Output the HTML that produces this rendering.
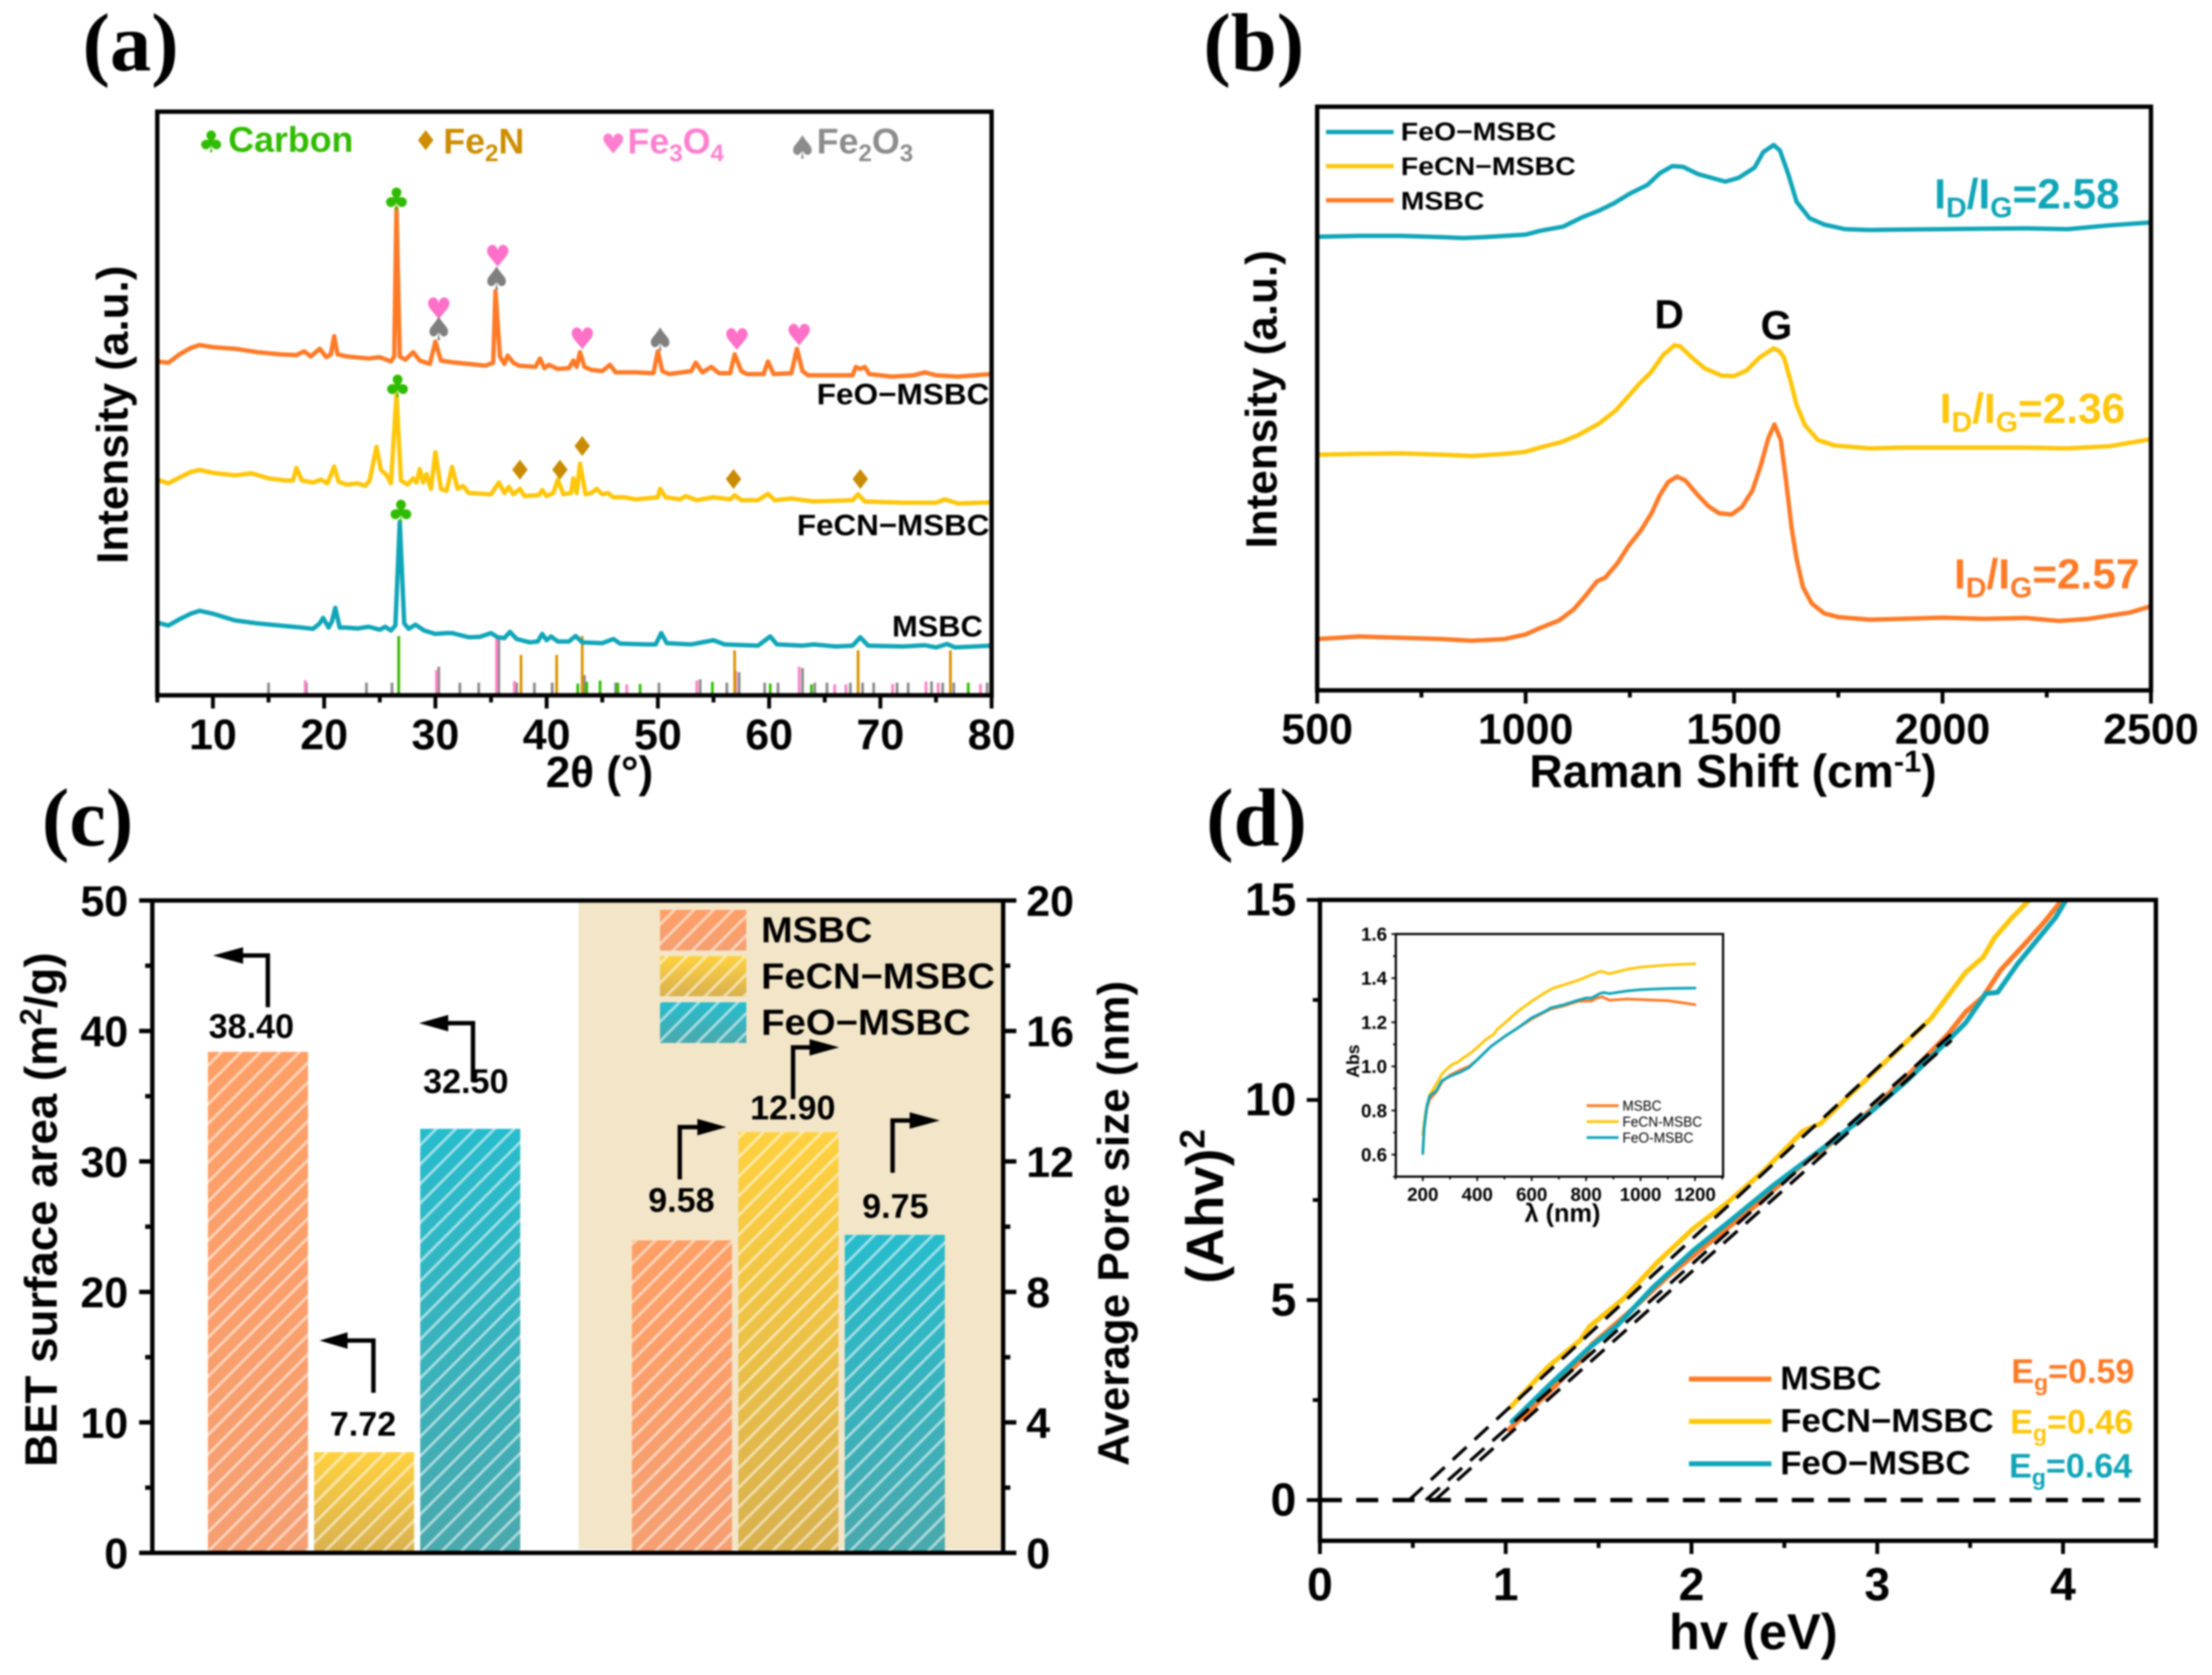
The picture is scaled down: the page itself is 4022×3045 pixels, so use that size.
<!DOCTYPE html>
<html lang="en">
<head>
<meta charset="utf-8">
<title>XRD, Raman, BET and band gap of MSBC samples</title>
<style>
html,body{margin:0;padding:0;background:#fff;}
body{width:4022px;height:3045px;overflow:hidden;}
svg{display:block;filter:blur(1.5px);}
text{font-family:"Liberation Sans","DejaVu Sans",sans-serif;font-weight:bold;fill:#000;}
.panel{font-family:"Liberation Serif",serif;font-size:150px;}
.axt{font-size:80px;}
.sym{font-family:"DejaVu Sans",sans-serif;font-weight:normal;}
</style>
</head>
<body>
<svg id="fig" xmlns="http://www.w3.org/2000/svg" width="4022" height="3045" viewBox="0 0 4022 3045">
<defs>
<pattern id="hatch" width="25" height="25" patternUnits="userSpaceOnUse" patternTransform="rotate(45)">
<line x1="12" y1="0" x2="12" y2="25" stroke="#fff" stroke-opacity="0.55" stroke-width="5"/>
</pattern>
<linearGradient id="gradO" x1="0" y1="0" x2="0" y2="1"><stop offset="0" stop-color="#ff9f66"/><stop offset="1" stop-color="#f59f72"/></linearGradient>
<linearGradient id="gradY" x1="0" y1="0" x2="0" y2="1"><stop offset="0" stop-color="#ffd13f"/><stop offset="1" stop-color="#d8b14f"/></linearGradient>
<linearGradient id="gradT" x1="0" y1="0" x2="0" y2="1"><stop offset="0" stop-color="#27bccd"/><stop offset="1" stop-color="#4aa9ad"/></linearGradient>
</defs>
<rect x="0" y="0" width="4022" height="3045" fill="#fff"/>

<text class="panel" x="150" y="128">(a)</text>
<text class="panel" x="2188" y="128">(b)</text>
<text class="panel" x="76" y="1537">(c)</text>
<text class="panel" x="2193" y="1537">(d)</text>

<g id="panelA"></g>
<g id="panelB"></g>
<g id="panelC"></g>
<g id="panelD"></g>
<g id="panelInset"></g>

<!-- panel a text -->
<text class="axt" transform="rotate(-90 232 754)" x="232" y="754" text-anchor="middle">Intensity (a.u.)</text>
<text class="axt" x="1090" y="1431" text-anchor="middle">2θ (°)</text>
<g>
<text class="sym" x="384" y="258" font-size="54" text-anchor="middle" dominant-baseline="central" style="fill:#2fbc00">♣</text>
<text x="415" y="276" font-size="65" style="fill:#2fbc00">Carbon</text>
<text class="sym" x="774" y="256" font-size="50" text-anchor="middle" dominant-baseline="central" style="fill:#cc8d00">♦</text>
<text x="806" y="279" font-size="65" style="fill:#cc8d00">Fe<tspan font-size="44" dy="14">2</tspan><tspan dy="-14">N</tspan></text>
<text class="sym" x="1115" y="262" font-size="50" text-anchor="middle" dominant-baseline="central" style="fill:#ff7fcf">♥</text>
<text x="1141" y="279" font-size="65" style="fill:#ff7fcf">Fe<tspan font-size="44" dy="14">3</tspan><tspan dy="-14">O</tspan><tspan font-size="44" dy="14">4</tspan></text>
<text class="sym" x="1459" y="268" font-size="58" text-anchor="middle" dominant-baseline="central" style="fill:#8c8c8c">♠</text>
<text x="1485" y="279" font-size="65" style="fill:#8c8c8c">Fe<tspan font-size="44" dy="14">2</tspan><tspan dy="-14">O</tspan><tspan font-size="44" dy="14">3</tspan></text>
</g>
<text x="1799" y="735" font-size="54" text-anchor="end" textLength="314" lengthAdjust="spacingAndGlyphs">FeO−MSBC</text>
<text x="1799" y="973" font-size="54" text-anchor="end" textLength="350" lengthAdjust="spacingAndGlyphs">FeCN−MSBC</text>
<text x="1787" y="1157" font-size="54" text-anchor="end" textLength="165" lengthAdjust="spacingAndGlyphs">MSBC</text>

<!-- panel b text -->
<text class="axt" transform="rotate(-90 2321 726)" x="2321" y="726" text-anchor="middle">Intensity (a.u.)</text>
<text x="3151" y="1431" font-size="84" text-anchor="middle">Raman Shift (cm<tspan font-size="56" dy="-28">-1</tspan><tspan dy="28">)</tspan></text>
<g>
<line x1="2411" y1="240" x2="2534" y2="240" stroke="#0fa5b8" stroke-width="8"/>
<text x="2547" y="255" font-size="46" textLength="283" lengthAdjust="spacingAndGlyphs">FeO−MSBC</text>
<line x1="2411" y1="302" x2="2534" y2="302" stroke="#ffc60a" stroke-width="8"/>
<text x="2547" y="318" font-size="46" textLength="318" lengthAdjust="spacingAndGlyphs">FeCN−MSBC</text>
<line x1="2411" y1="364" x2="2534" y2="364" stroke="#ff7a26" stroke-width="8"/>
<text x="2547" y="381" font-size="46" textLength="152" lengthAdjust="spacingAndGlyphs">MSBC</text>
</g>
<text x="3517" y="379" font-size="77" style="fill:#0fa5b8">I<tspan font-size="52" dy="16">D</tspan><tspan dy="-16">/I</tspan><tspan font-size="52" dy="16">G</tspan><tspan dy="-16">=2.58</tspan></text>
<text x="3527" y="769" font-size="77" style="fill:#ffc60a">I<tspan font-size="52" dy="16">D</tspan><tspan dy="-16">/I</tspan><tspan font-size="52" dy="16">G</tspan><tspan dy="-16">=2.36</tspan></text>
<text x="3553" y="1070" font-size="77" style="fill:#ff7a26">I<tspan font-size="52" dy="16">D</tspan><tspan dy="-16">/I</tspan><tspan font-size="52" dy="16">G</tspan><tspan dy="-16">=2.57</tspan></text>
<text x="3035" y="597" font-size="74" text-anchor="middle">D</text>
<text x="3230" y="617" font-size="74" text-anchor="middle">G</text>

<!-- panel c text -->
<text transform="rotate(-90 103 2199)" x="103" y="2199" font-size="83" text-anchor="middle">BET surface area (m<tspan font-size="56" dy="-28">2</tspan><tspan dy="28">/g)</tspan></text>
<text class="axt" transform="rotate(-90 2052 2224)" x="2052" y="2224" text-anchor="middle">Average Pore size (nm)</text>

<!-- panel d text -->
<text transform="rotate(-90 2224 2193)" x="2224" y="2193" text-anchor="middle" font-size="96">(Ahv)<tspan font-size="64" dy="-34">2</tspan></text>
<text x="3188" y="2998" font-size="92" text-anchor="middle">hv (eV)</text>
<g>
<line x1="3071" y1="2507" x2="3221" y2="2507" stroke="#ff7a26" stroke-width="9"/>
<text x="3237" y="2526" font-size="60" textLength="184" lengthAdjust="spacingAndGlyphs">MSBC</text>
<line x1="3071" y1="2584" x2="3221" y2="2584" stroke="#ffc60a" stroke-width="9"/>
<text x="3237" y="2603" font-size="60" textLength="388" lengthAdjust="spacingAndGlyphs">FeCN−MSBC</text>
<line x1="3071" y1="2661" x2="3221" y2="2661" stroke="#0fa5b8" stroke-width="9"/>
<text x="3237" y="2680" font-size="60" textLength="346" lengthAdjust="spacingAndGlyphs">FeO−MSBC</text>
</g>
<text x="3657" y="2514" font-size="62" style="fill:#ff7a26">E<tspan font-size="42" dy="14">g</tspan><tspan dy="-14">=0.59</tspan></text>
<text x="3655" y="2606" font-size="62" style="fill:#ffc60a">E<tspan font-size="42" dy="14">g</tspan><tspan dy="-14">=0.46</tspan></text>
<text x="3653" y="2686" font-size="62" style="fill:#0fa5b8">E<tspan font-size="42" dy="14">g</tspan><tspan dy="-14">=0.64</tspan></text>

<!-- inset text -->
<text x="2445" y="1916" font-size="32" transform="rotate(-90 2458 1916)" text-anchor="middle" dy="13">Abs</text>
<text x="2841" y="2221" font-size="46" text-anchor="middle">λ (nm)</text>
<g>
<line x1="2885" y1="2010" x2="2943" y2="2010" stroke="#ff7a26" stroke-width="5"/>
<text x="2950" y="2019" font-size="26" textLength="71" lengthAdjust="spacingAndGlyphs" style="font-weight:normal">MSBC</text>
<line x1="2885" y1="2039" x2="2943" y2="2039" stroke="#ffc60a" stroke-width="5"/>
<text x="2950" y="2048" font-size="26" textLength="145" lengthAdjust="spacingAndGlyphs" style="font-weight:normal">FeCN-MSBC</text>
<line x1="2885" y1="2068" x2="2943" y2="2068" stroke="#0fa5b8" stroke-width="5"/>
<text x="2950" y="2077" font-size="26" textLength="129" lengthAdjust="spacingAndGlyphs" style="font-weight:normal">FeO-MSBC</text>
</g>
</svg>

<script>
// ---------- Panel (a) XRD data ----------
const xrdTicks = [10,20,30,40,50,60,70,80];
const xrdMinorTicks = [5,15,25,35,45,55,65,75];
const xrdFeoX = [5,6,7,8,8.8,10,12,14,16,17.5,18.2,18.8,19.6,20.2,20.6,20.9,21.2,22,24,25,26,26.3,26.5,26.8,27.3,28,28.6,29.5,30,30.5,31.5,33,34.5,35.2,35.4,35.8,36.2,36.5,37,37.5,39,39.4,39.8,40.2,41,42,42.4,42.7,43,43.4,44,45,45.7,46.2,48,49.6,50,50.4,51,53,53.4,54,54.8,55.5,56.5,56.9,57.5,58,59.5,59.9,60.4,62,62.5,63,63.5,65,67.5,67.8,68.2,68.6,69,71,73,74,75,77,80];
const xrdFeoI = [794,791,811,826,833,828,824,816,811,809,818,806,824,804,811,854,811,806,801,804,794,806,1158,806,798,816,796,788,841,796,792,788,784,791,961,806,788,808,791,784,781,801,778,786,776,778,796,781,816,781,774,771,786,768,768,766,818,771,764,771,791,768,781,766,766,811,771,764,764,794,764,766,824,771,761,761,761,781,776,781,764,758,761,768,761,758,764];
const xrdFecnX = [5,6,7,8,8.8,10,12,13.5,15,16.5,17.2,17.5,18,19,19.7,20.3,20.9,21.3,22,23,23.7,24.1,24.7,25.1,25.6,26,26.5,26.9,27.5,28,28.3,28.6,28.9,29.2,29.6,30,30.5,31,31.5,32,32.5,33,35,35.7,36.2,36.6,37,37.6,38,39.3,39.6,40,40.6,41,41.5,42.2,42.4,42.7,43,43.5,44,44.5,45,45.5,46,47,48,50,50.2,50.7,52,52.5,53.5,55,56.5,56.9,57.5,59,59.9,60.5,62,64,67.5,68,68.6,72,75,75.8,77,80];
const xrdFecnI = [513,504,518,531,536,529,523,528,516,511,511,541,511,506,513,504,544,508,501,504,498,511,591,536,524,504,716,511,501,516,506,538,506,526,491,578,491,486,543,491,498,481,478,506,481,496,478,491,474,476,488,474,481,513,478,481,516,481,551,478,481,491,478,481,471,471,466,471,491,471,466,474,464,471,466,476,464,464,479,464,468,461,464,478,461,458,458,466,456,459];
const xrdMsbcX = [5,6,7,8,8.8,10,12,14,16,18,19,19.6,19.9,20.4,20.7,21,21.4,22,23,24,25,25.5,26,26.4,26.8,27.2,27.6,28.2,29,30,31,31.5,33,34,35,35.6,36.2,36.7,37.3,38.5,39.2,39.6,40,40.4,41,42,42.6,43.2,45,46,46.6,49,49.8,50.3,50.8,53,55,56,59,60.1,60.7,63,64,66,67.5,68.2,68.9,72,74,75,76,76.7,80];
const xrdMsbcI = [173,166,181,194,201,194,178,171,166,161,158,171,184,161,176,208,161,161,159,163,156,163,154,166,413,171,158,168,154,146,148,148,138,139,148,138,136,151,134,126,128,146,131,140,128,128,141,126,124,134,123,121,121,148,124,121,131,121,118,140,121,118,121,116,118,138,118,116,119,114,122,114,118];
const refGrayX = [15,18.4,23.8,26.1,30.3,32.2,33.9,35.7,37.3,38.9,40.5,43.4,44.8,46.2,50.1,53.8,56.2,57.3,59.6,60.8,63,64.1,65.2,67.3,68.4,69.4,71.5,72.5,74.6,75.6,76.6,79.6];
const refGrayI = [30,30,30,30,68,30,30,141,30,30,30,48,30,30,30,38,30,55,30,30,65,30,30,30,30,30,30,30,33,30,30,30];
const refPinkX = [18.3,30.1,35.5,37.1,43.2,47.2,53.5,57,62.7,65.9,66.9,71.1,74.1,75.2,79];
const refPinkI = [36,60,140,34,48,26,35,58,68,26,26,27,33,30,27];
const refGoldX = [37.7,40.9,43.2,56.9,68,76.3];
const refGoldI = [96,96,141,107,107,107];
const refGreenX = [26.7,42.8,43.6,44.8,46.4,48.4,54.9,60.1,63.8,77.9];
const refGreenI = [141,28,32,35,30,27,32,28,26,30];
const clubX = [26.5,26.6,26.9];
const clubI = [1179,734,436];
const heartX = [35.6,30.3,43.2,57.1,62.7];
const heartI = [1044,919,848,846,856];
const spadeX = [35.5,30.3,50.2];
const spadeI = [991,871,846];
const diamondX = [43.2,37.6,41.2,56.8,68.2];
const diamondI = [591,535,535,513,513];

// ---------- Panel (b) Raman data ----------
const ramanTicks = [500,1000,1500,2000,2500];
const ramanMinorTicks = [750,1250,1750,2250];
const ramanFeoX = [500,600,700,800,850,900,1000,1034,1090,1135,1176,1211,1251,1292,1322,1352,1378,1413,1453,1479,1511,1549,1570,1595,1610,1630,1650,1681,1716,1766,1826,1900,2000,2100,2200,2300,2400,2500];
const ramanFeoI = [1078,1080,1080,1077,1075,1077,1083,1092,1102,1124,1140,1157,1181,1201,1229,1246,1244,1227,1216,1209,1218,1242,1279,1296,1283,1227,1161,1122,1107,1096,1094,1095,1096,1097,1098,1096,1105,1112];
const ramanFecnX = [500,600,700,800,870,950,1000,1034,1085,1125,1176,1216,1251,1272,1300,1330,1357,1370,1400,1430,1470,1500,1530,1560,1595,1610,1620,1638,1650,1670,1701,1741,1826,1900,2000,2100,2200,2300,2400,2500];
const ramanFecnI = [560,562,563,560,557,562,567,577,590,606,634,665,704,728,755,797,820,818,790,765,748,747,760,790,813,805,790,726,678,630,595,582,575,577,577,577,577,575,580,597];
const ramanMsbcX = [500,600,700,800,870,950,1000,1034,1080,1115,1143,1171,1191,1221,1246,1277,1302,1322,1342,1363,1383,1413,1438,1464,1494,1519,1544,1564,1582,1597,1612,1625,1638,1650,1665,1686,1716,1751,1826,1900,2000,2100,2200,2280,2350,2450,2500];
const ramanMsbcI = [122,128,125,122,118,122,133,148,166,192,224,259,268,303,342,381,421,464,495,508,499,464,438,421,418,436,475,534,599,632,595,495,386,312,246,207,183,174,168,170,173,170,172,165,170,185,200];

// ---------- Panel (c) bar data ----------
const barSamples = ['MSBC','FeCN-MSBC','FeO-MSBC'];
const betValues = [38.40,7.72,32.50];
const betLabels = ['38.40','7.72','32.50'];
const poreValues = [9.58,12.90,9.75];
const poreLabels = ['9.58','12.90','9.75'];
const betTicks = [0,10,20,30,40,50];
const betMinorTicks = [5,15,25,35,45];
const poreTicks = [0,4,8,12,16,20];
const poreMinorTicks = [2,6,10,14,18];

// ---------- Panel (d) Tauc data ----------
const taucXTicks = [0,1,2,3,4];
const taucXMinorTicks = [0.5,1.5,2.5,3.5,4.5];
const taucYTicks = [0,5,10,15];
const taucYMinorTicks = [2.5,7.5,12.5];
const taucMsbcX = [1.018,1.227,1.415,1.462,1.665,1.883,2.10,2.35,2.633,2.68,2.976,3.164,3.382,3.476,3.57,3.663,3.804,3.90,3.99];
const taucMsbcY = [1.77,2.67,3.55,3.88,4.70,5.63,6.45,7.38,8.53,8.64,9.79,10.61,11.65,12.2,12.58,13.24,13.95,14.45,14.97];
const taucFecnX = [1.024,1.227,1.40,1.452,1.633,1.82,2.008,2.195,2.383,2.60,2.695,2.851,3.04,3.29,3.476,3.57,3.632,3.726,3.813];
const taucFecnY = [2.31,3.33,3.99,4.34,5.03,5.96,6.78,7.44,8.20,9.22,9.41,10.12,10.94,12.04,13.19,13.57,14.06,14.56,14.97];
const taucFeoX = [1.034,1.227,1.446,1.602,1.79,2.008,2.227,2.445,2.695,2.976,3.164,3.382,3.476,3.585,3.648,3.757,3.882,3.96,4.013];
const taucFeoY = [1.96,2.84,3.79,4.37,5.30,6.23,7.05,7.88,8.75,9.74,10.50,11.49,11.93,12.66,12.69,13.41,14.12,14.56,14.97];
const fitStartX = [0.48,0.57,0.62];
const fitEndX = [3.29,3.40,3.40];
const fitEndY = [12.04,11.65,11.49];

// ---------- Inset data ----------
const insetXTicks = [200,400,600,800,1000,1200];
const insetXMinorTicks = [100,300,500,700,900,1100,1300];
const insetYTicks = [0.6,0.8,1.0,1.2,1.4,1.6];
const insetYMinorTicks = [0.5,0.7,0.9,1.1,1.3,1.5];
const absFecnX = [200,210,225,250,270,290,310,330,350,370,400,430,460,475,500,550,600,650,680,720,770,810,850,860,885,950,1000,1100,1200];
const absFecnY = [0.69,0.79,0.87,0.92,0.965,0.99,1.01,1.02,1.04,1.055,1.085,1.12,1.145,1.17,1.195,1.25,1.295,1.335,1.355,1.37,1.39,1.41,1.43,1.43,1.42,1.44,1.45,1.46,1.465];
const absMsbcX = [200,205,215,225,250,270,300,340,370,400,450,500,550,600,650,670,720,770,820,840,860,885,950,1000,1100,1200];
const absMsbcY = [0.605,0.72,0.81,0.85,0.885,0.93,0.96,0.985,1.00,1.03,1.09,1.135,1.175,1.215,1.248,1.26,1.275,1.295,1.297,1.31,1.315,1.30,1.305,1.303,1.298,1.28];
const absFeoX = [200,205,215,225,250,270,300,340,370,400,450,500,550,600,650,670,720,770,800,820,850,865,885,950,1000,1100,1200];
const absFeoY = [0.605,0.72,0.82,0.865,0.89,0.935,0.955,0.975,0.995,1.03,1.09,1.135,1.175,1.22,1.25,1.265,1.28,1.30,1.31,1.31,1.33,1.335,1.33,1.342,1.348,1.353,1.355];

// ---------- helpers ----------
const NS = 'http://www.w3.org/2000/svg';
const ORANGE = '#ff7a26', YELLOW = '#ffc60a', TEAL = '#0fa5b8', BLACK = '#000';
function add(parent, tag, attrs, name) {
  const el = document.createElementNS(NS, tag);
  for (const k in attrs) el.setAttribute(k, attrs[k]);
  
  
  parent.appendChild(el);
  return el;
}
function scale(d0, d1, r0, r1) { return v => r0 + (v - d0) * (r1 - r0) / (d1 - d0); }
function lineMark(parent, xs, ys, fx, fy, color, width, name) {
  const d = xs.map((x, i) => (i ? 'L' : 'M') + fx(x).toFixed(1) + ' ' + fy(ys[i]).toFixed(1)).join('');
  return add(parent, 'path', {d: d, fill: 'none', stroke: color, 'stroke-width': width, 'stroke-linejoin': 'round', 'stroke-linecap': 'round'}, name);
}
function seg(parent, x1, y1, x2, y2, w, name) {
  return add(parent, 'line', {x1: x1, y1: y1, x2: x2, y2: y2, stroke: BLACK, 'stroke-width': w}, name);
}
function label(parent, x, y, text, size, anchor, name) {
  const t = add(parent, 'text', {x: x, y: y, 'font-size': size, 'text-anchor': anchor}, name);
  t.textContent = text;
  return t;
}
function frame(parent, l, t, r, b, w, name) {
  add(parent, 'rect', {x: l, y: t, width: r - l, height: b - t, fill: 'none', stroke: BLACK, 'stroke-width': w}, name);
}
function xTicks(parent, vals, minor, fx, yb, maj, min, w, size, base, fmt, prefix) {
  vals.forEach(v => {
    seg(parent, fx(v), yb, fx(v), yb + maj, w, prefix + '-x-tick');
    label(parent, fx(v), base, fmt(v), size, 'middle', prefix + '-x-tick-label');
  });
  minor.forEach(v => seg(parent, fx(v), yb, fx(v), yb + min, w, prefix + '-x-minor-tick'));
}
function yTicks(parent, vals, minor, fy, x, dir, maj, min, w, size, gap, dy, fmt, prefix) {
  const anchor = dir < 0 ? 'end' : 'start';
  vals.forEach(v => {
    seg(parent, x, fy(v), x + dir * maj, fy(v), w, prefix + '-y-tick');
    label(parent, x + dir * gap, fy(v) + dy, fmt(v), size, anchor, prefix + '-y-tick-label');
  });
  minor.forEach(v => seg(parent, x, fy(v), x + dir * min, fy(v), w, prefix + '-y-minor-tick'));
}
function symbols(parent, xs, is, fx, fy, glyph, color, size, name) {
  xs.forEach((x, i) => {
    const t = add(parent, 'text', {x: fx(x), y: fy(is[i]), 'font-size': size, 'text-anchor': 'middle', 'dominant-baseline': 'central', 'class': 'sym', style: 'fill:' + color}, name);
    t.textContent = glyph;
  });
}

// ---------- Panel (a) ----------
const pa = document.getElementById('panelA');
const xA = scale(5, 80, 286, 1803);
const yA = scale(0, 1388, 1264, 203);
function sticks(xs, is, color, name) {
  xs.forEach((x, i) => add(pa, 'line', {x1: xA(x), y1: 1264, x2: xA(x), y2: yA(is[i]), stroke: color, 'stroke-width': 5}, name));
}
sticks(refGrayX, refGrayI, '#8a8a8a', 'fe2o3-reference-stick');
sticks(refPinkX, refPinkI, '#ff80c8', 'fe3o4-reference-stick');
sticks(refGoldX, refGoldI, '#d89200', 'fe2n-reference-stick');
sticks(refGreenX, refGreenI, '#33bb00', 'carbon-reference-stick');
lineMark(pa, xrdFeoX, xrdFeoI, xA, yA, ORANGE, 8, 'feo-msbc-xrd-trace');
lineMark(pa, xrdFecnX, xrdFecnI, xA, yA, YELLOW, 8, 'fecn-msbc-xrd-trace');
lineMark(pa, xrdMsbcX, xrdMsbcI, xA, yA, TEAL, 8, 'msbc-xrd-trace');
symbols(pa, clubX, clubI, xA, yA, '♣', '#2fbc00', 56, 'carbon-peak-marker');
symbols(pa, heartX, heartI, xA, yA, '♥', '#ff70c8', 54, 'fe3o4-peak-marker');
symbols(pa, spadeX, spadeI, xA, yA, '♠', '#7f7f7f', 58, 'fe2o3-peak-marker');
symbols(pa, diamondX, diamondI, xA, yA, '♦', '#c98c00', 50, 'fe2n-peak-marker');
frame(pa, 286, 203, 1803, 1264, 8, 'xrd-plot-frame');
xTicks(pa, xrdTicks, xrdMinorTicks, xA, 1264, 24, 13, 7, 78, 1362, String, 'xrd');

// ---------- Panel (b) ----------
const pb = document.getElementById('panelB');
const xB = scale(500, 2500, 2395, 3911);
const yB = scale(0, 1387, 1255, 194);
lineMark(pb, ramanFeoX, ramanFeoI, xB, yB, TEAL, 8, 'feo-msbc-raman-trace');
lineMark(pb, ramanFecnX, ramanFecnI, xB, yB, YELLOW, 8, 'fecn-msbc-raman-trace');
lineMark(pb, ramanMsbcX, ramanMsbcI, xB, yB, ORANGE, 8, 'msbc-raman-trace');
frame(pb, 2395, 194, 3911, 1255, 8, 'raman-plot-frame');
xTicks(pb, ramanTicks, ramanMinorTicks, xB, 1255, 24, 13, 7, 78, 1352, String, 'raman');

// ---------- Panel (c) ----------
const pc = document.getElementById('panelC');
const yL = scale(0, 50, 2823, 1637);
const yR = scale(0, 20, 2823, 1637);
const barGrad = ['url(#gradO)', 'url(#gradY)', 'url(#gradT)'];
const BAR_W = 182;
const bandL = scale(0, 1, 378, 571);
const bandR = scale(0, 1, 1149, 1342.5);
add(pc, 'rect', {x: 1052, y: 1641, width: 768, height: 1175, fill: '#f3e6c8'}, 'pore-size-background');
function bars(values, labels, fx, fy, offsets, gaps, prefix) {
  values.forEach((v, i) => {
    const x = fx(i), y = fy(v), h = fy(0) - y;
    add(pc, 'rect', {x: x, y: y, width: BAR_W, height: h, fill: barGrad[i]}, prefix + '-bar-' + barSamples[i].toLowerCase());
    add(pc, 'rect', {x: x, y: y, width: BAR_W, height: h, fill: 'url(#hatch)'}, prefix + '-bar-hatch');
    label(pc, x + BAR_W / 2 + offsets[i], y - gaps[i], labels[i], 62, 'middle', prefix + '-value-label');
  });
}
bars(betValues, betLabels, bandL, yL, [-12, -2, -8], [25, 30, 65], 'bet');
bars(poreValues, poreLabels, bandR, yR, [-1, 8, 1], [52, 23, 31], 'pore');
function arrow(x0, y0, yBend, xBase, xTip) {
  add(pc, 'path', {d: 'M' + x0 + ' ' + y0 + 'L' + x0 + ' ' + yBend + 'L' + xBase + ' ' + yBend, fill: 'none', stroke: BLACK, 'stroke-width': 8}, 'axis-pointer-arrow');
  add(pc, 'path', {d: 'M' + xBase + ' ' + (yBend - 15) + 'L' + xTip + ' ' + yBend + 'L' + xBase + ' ' + (yBend + 15) + 'Z', fill: BLACK}, 'axis-pointer-arrowhead');
}
arrow(487, 1831, 1737, 442, 387);
arrow(679, 2532, 2437, 632, 581);
arrow(860, 1967, 1860, 815, 762);
arrow(1236, 2144, 2049, 1268, 1321);
arrow(1442, 1998, 1904, 1472, 1526);
arrow(1623, 2132, 2037, 1654, 1709);
add(pc, 'path', {d: 'M277 2823V1637H1824V2823Z', fill: 'none', stroke: BLACK, 'stroke-width': 8}, 'bet-plot-frame');
yTicks(pc, betTicks, betMinorTicks, yL, 277, -1, 24, 13, 8, 78, 44, 28, String, 'bet');
yTicks(pc, poreTicks, poreMinorTicks, yR, 1824, 1, 24, 13, 8, 78, 42, 28, String, 'pore');
const swatchY = [1654, 1738, 1822];
const swatchH = [74, 73, 74];
const legendBase = [1713, 1797, 1881];
const legendW = [202, 425, 381];
const legendText = ['MSBC', 'FeCN−MSBC', 'FeO−MSBC'];
legendText.forEach((s, i) => {
  add(pc, 'rect', {x: 1200, y: swatchY[i], width: 157, height: swatchH[i], fill: barGrad[i]}, 'legend-swatch');
  add(pc, 'rect', {x: 1200, y: swatchY[i], width: 157, height: swatchH[i], fill: 'url(#hatch)'}, 'legend-swatch-hatch');
  const t = label(pc, 1384, legendBase[i], s, 66, 'start', 'bar-legend-label');
  t.setAttribute('textLength', legendW[i]);
  t.setAttribute('lengthAdjust', 'spacingAndGlyphs');
});

// ---------- Panel (d) ----------
const pd = document.getElementById('panelD');
const xD = scale(0, 4.5, 2400, 3920);
const yD = scale(0, 15, 2727, 1636);
lineMark(pd, taucFecnX, taucFecnY, xD, yD, YELLOW, 9, 'fecn-msbc-tauc-curve');
lineMark(pd, taucMsbcX, taucMsbcY, xD, yD, ORANGE, 9, 'msbc-tauc-curve');
lineMark(pd, taucFeoX, taucFeoY, xD, yD, TEAL, 9, 'feo-msbc-tauc-curve');
fitStartX.forEach((x0, i) => {
  add(pd, 'line', {x1: xD(x0), y1: yD(0), x2: xD(fitEndX[i]), y2: yD(fitEndY[i]), stroke: BLACK, 'stroke-width': 6, 'stroke-dasharray': '34 20'}, 'tangent-fit-line');
});
add(pd, 'line', {x1: 2400, y1: yD(0), x2: 3915, y2: yD(0), stroke: BLACK, 'stroke-width': 8, 'stroke-dasharray': '40 26'}, 'zero-baseline');
add(pd, 'rect', {x: 2400, y: 1636, width: 1520, height: 1165, fill: 'none', stroke: BLACK, 'stroke-width': 8}, 'tauc-plot-frame');
xTicks(pd, taucXTicks, taucXMinorTicks, xD, 2801, 24, 13, 7, 84, 2909, String, 'tauc');
yTicks(pd, taucYTicks, taucYMinorTicks, yD, 2400, -1, 24, 13, 7, 84, 43, 28, String, 'tauc');

// ---------- Inset ----------
const pi = document.getElementById('panelInset');
const xI = scale(200, 1200, 2587, 3082);
const yI = scale(0.6, 1.6, 2099, 1698);
lineMark(pi, absFecnX, absFecnY, xI, yI, YELLOW, 5, 'inset-fecn-msbc-curve');
lineMark(pi, absMsbcX, absMsbcY, xI, yI, ORANGE, 5, 'inset-msbc-curve');
lineMark(pi, absFeoX, absFeoY, xI, yI, TEAL, 5, 'inset-feo-msbc-curve');
frame(pi, 2538, 1698, 3133, 2139, 4, 'inset-plot-frame');
xTicks(pi, insetXTicks, insetXMinorTicks, xI, 2139, 8, 5, 3, 34, 2183, String, 'inset');
yTicks(pi, insetYTicks, insetYMinorTicks, yI, 2538, -1, 8, 5, 3, 34, 16, 12, v => v.toFixed(1), 'inset');
</script>
</body>
</html>
